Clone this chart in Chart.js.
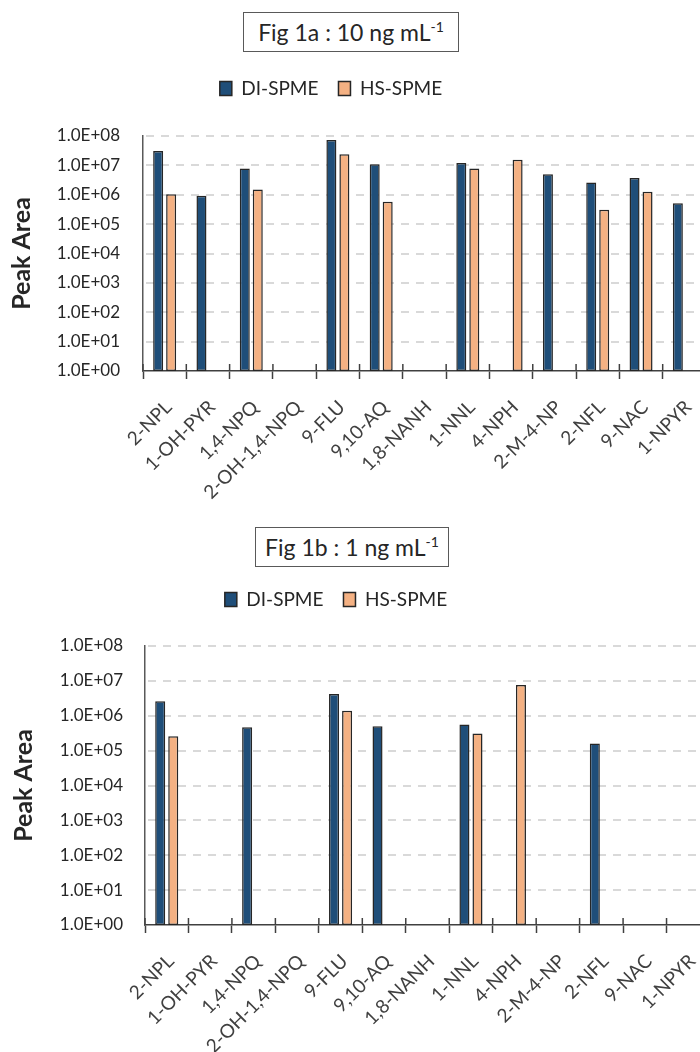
<!DOCTYPE html>
<html>
<head>
<meta charset="utf-8">
<script src="https://cdn.jsdelivr.net/npm/chart.js@4/dist/chart.umd.min.js"></script>
<style>
  body { margin: 0; background: #fff; overflow: hidden; width: 700px; height: 1052px; position: relative; font-family: Lato, sans-serif; }
  .wrap { position: absolute; }
  .figtitle { position: absolute; box-sizing: border-box; border: 1px solid #595959; background: #fff;
              font-size: 23px; color: #262626; text-align: center; line-height: 38px; z-index: 2; }
  .figtitle sup { font-size: 14px; vertical-align: 9px; line-height: 0; }
</style>
</head>
<body>
<div class="wrap" style="left:-44px; top:0px; width:750px; height:520px;">
  <canvas id="chart10" width="750" height="520"></canvas>
</div>
<div class="wrap" style="left:-38px; top:520px; width:748px; height:532px;">
  <canvas id="chart1" width="748" height="532"></canvas>
</div>
<div class="figtitle" style="left:243px; top:12px; width:216px; height:40px;">Fig 1a : 10 ng mL<sup>-1</sup></div>
<div class="figtitle" style="left:255px; top:527px; width:194px; height:40px;">Fig 1b : 1 ng mL<sup>-1</sup></div>

<script>
var categories = ['2-NPL', '1-OH-PYR', '1,4-NPQ', '2-OH-1,4-NPQ', '9-FLU', '9,10-AQ', '1,8-NANH',
                  '1-NNL', '4-NPH', '2-M-4-NP', '2-NFL', '9-NAC', '1-NPYR'];

// Fig 1a : 10 ng/mL
var di10 = [3.1e7, 9.3e5, 7.8e6, null, 7.3e7, 1.1e7, null, 1.2e7, null, 5.0e6, 2.6e6, 3.7e6, 5.1e5];
var hs10 = [1.05e6, null, 1.5e6, null, 2.4e7, 5.8e5, null, 7.8e6, 1.55e7, null, 3.1e5, 1.26e6, null];

// Fig 1b : 1 ng/mL
var di1 = [2.6e6, null, 4.7e5, null, 4.2e6, 5.0e5, null, 5.6e5, null, null, 1.6e5, null, null];
var hs1 = [2.6e5, null, null, null, 1.38e6, null, null, 3.1e5, 7.6e6, null, null, null, null];

var yTickValues = [1, 1e1, 1e2, 1e3, 1e4, 1e5, 1e6, 1e7, 1e8];
var yTickLabels = ['1.0E+00', '1.0E+01', '1.0E+02', '1.0E+03', '1.0E+04', '1.0E+05', '1.0E+06', '1.0E+07', '1.0E+08'];

Chart.defaults.font.family = 'Lato';
Chart.defaults.color = '#333333';

// extra room under the legend
var legendGap = {
    id: 'legendGap',
    beforeInit: function (chart) {
        var fit = chart.legend.fit;
        chart.legend.fit = function () {
            fit.bind(chart.legend)();
            this.height += chart.options.plugins.legendGap.gap;
        };
    }
};

// dashed horizontal grid + tick marks that cross the x axis
var dashedGrid = {
    id: 'dashedGrid',
    beforeDatasetsDraw: function (chart) {
        var ctx = chart.ctx, a = chart.chartArea, ys = chart.scales.y, xs = chart.scales.x;
        ctx.save();
        ctx.strokeStyle = '#d9d9d9';
        ctx.lineWidth = 2;
        ctx.setLineDash([8, 7]);
        ys.ticks.forEach(function (t) {
            var p = Math.round(ys.getPixelForValue(t.value));
            if (p >= a.bottom - 1) return;
            ctx.beginPath();
            ctx.moveTo(a.left + 3, p);
            ctx.lineTo(a.right, p);
            ctx.stroke();
        });
        ctx.setLineDash([]);
        ctx.strokeStyle = '#404040';
        ctx.lineWidth = 1.5;
        var half = (xs.getPixelForValue(1) - xs.getPixelForValue(0)) / 2;
        for (var i = 0; i <= categories.length; i++) {
            var px = xs.getPixelForValue(i) - half;
            ctx.beginPath();
            ctx.moveTo(px, a.bottom - 7);
            ctx.lineTo(px, a.bottom);
            ctx.stroke();
        }
        ctx.restore();
    }
};

function MakeChart(id, di, hs, o) {
    new Chart(id, {
        type: 'bar',
        data: {
            labels: categories,
            datasets: [{
                label: 'DI-SPME',
                backgroundColor: '#1f4e79',
                borderColor: '#262626',
                borderWidth: 1.5,
                borderSkipped: false,
                data: di,
            }, {
                label: 'HS-SPME',
                backgroundColor: '#f4b183',
                borderColor: '#262626',
                borderWidth: 1.5,
                borderSkipped: false,
                data: hs,
            }]
        },
        plugins: [legendGap, dashedGrid],
        options: {
            responsive: false,
            animation: false,
            barPercentage: 0.77,
            categoryPercentage: 0.6,
            layout: { padding: { top: o.padTop, left: 0, right: 0, bottom: 0 } },
            plugins: {
                legendGap: { gap: o.gap },
                legend: {
                    display: true,
                    labels: {
                        boxWidth: 12,
                        boxHeight: 14,
                        padding: 20,
                        color: '#262626',
                        font: { size: 19 }
                    }
                },
                title: { display: false },
                tooltip: { enabled: false }
            },
            scales: {
                x: {
                    afterFit: function (s) {
                        s.height = o.xHeight;
                        s.paddingRight = 0;
                    },
                    grid: {
                        drawOnChartArea: false,
                        drawTicks: true,
                        tickLength: 8,
                        tickWidth: 1.5,
                        tickColor: '#404040',
                        offset: true
                    },
                    border: { color: '#404040', width: 1.5 },
                    ticks: {
                        autoSkip: false,
                        minRotation: 45,
                        maxRotation: 45,
                        padding: 17,
                        labelOffset: 4,
                        color: '#404040',
                        font: { size: 19 }
                    }
                },
                y: {
                    type: 'logarithmic',
                    min: 1,
                    max: 1e8,
                    afterFit: function (s) { s.width = o.yWidth; },
                    afterBuildTicks: function (s) {
                        s.ticks = yTickValues.map(function (v) { return { value: v }; });
                    },
                    grid: { display: false, drawTicks: false },
                    border: { display: true, color: '#595959', width: 1.5 },
                    ticks: {
                        padding: o.yPad,
                        color: '#262626',
                        font: { size: 17 },
                        callback: function (value, index) { return yTickLabels[index]; }
                    },
                    title: {
                        display: true,
                        text: 'Peak Area',
                        color: '#262626',
                        font: { size: 25, weight: 'bold' },
                        padding: { top: o.titlePad, bottom: 0 }
                    }
                }
            }
        }
    });
}

MakeChart('chart10', di10, hs10, { padTop: 59, gap: 28, xHeight: 149, yWidth: 187, yPad: 23, titlePad: 51 });
MakeChart('chart1', di1, hs1, { padTop: 50, gap: 27, xHeight: 127, yWidth: 183, yPad: 22, titlePad: 47 });
</script>
</body>
</html>
